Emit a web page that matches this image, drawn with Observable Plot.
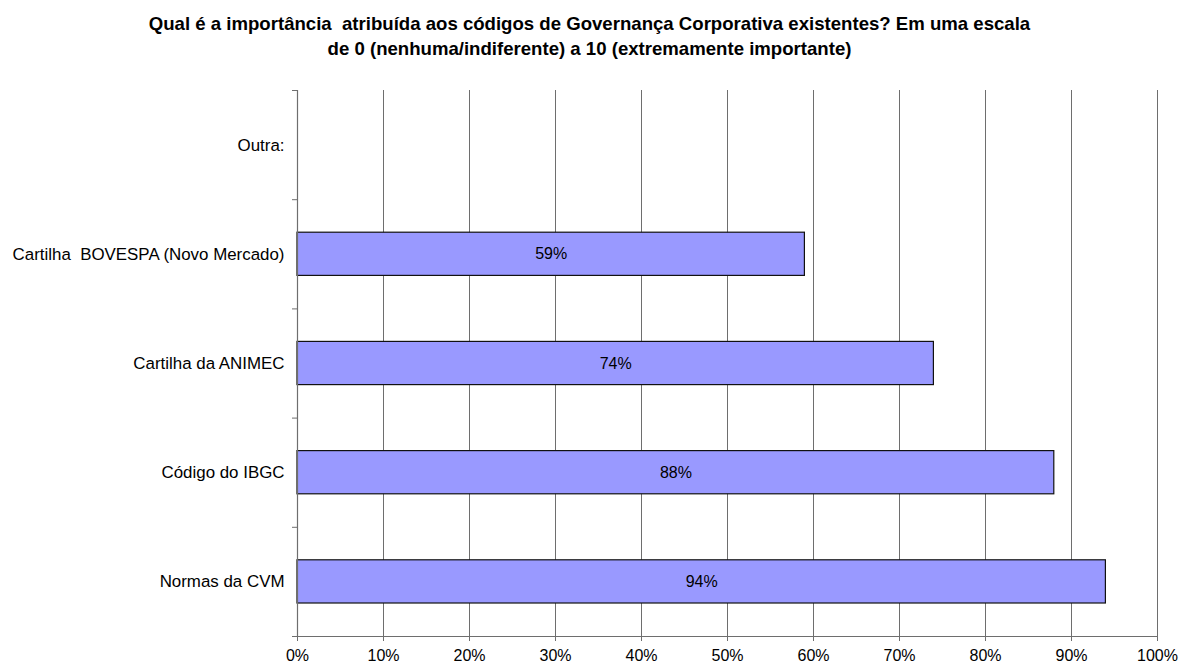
<!DOCTYPE html>
<html>
<head>
<meta charset="utf-8">
<script src="https://cdn.jsdelivr.net/npm/d3@7"></script>
<script src="https://cdn.jsdelivr.net/npm/@observablehq/plot@0.6"></script>
<style>
  html, body { margin: 0; padding: 0; background: #fff; overflow: hidden; }
  body { width: 1179px; height: 664px; font-family: Arial, "Liberation Sans", sans-serif; }
  #title { padding-top: 11px; height: 50px; text-align: center; font-weight: bold; font-size: 18.6px; line-height: 25px; color: #000; }
  #title div { white-space: pre; }
  svg text { white-space: pre; }
</style>
</head>
<body>
<div id="title"></div>
<div id="chart"></div>
<script>
const titleLines = [
  "Qual é a importância  atribuída aos códigos de Governança Corporativa existentes? Em uma escala",
  "de 0 (nenhuma/indiferente) a 10 (extremamente importante)"
];
// bottom to top
const categories = [
  "Normas da CVM",
  "Código do IBGC",
  "Cartilha da ANIMEC",
  "Cartilha  BOVESPA (Novo Mercado)",
  "Outra:"
];
const values = [0.94, 0.88, 0.74, 0.59, null];
const xTicks = [0, 0.1, 0.2, 0.3, 0.4, 0.5, 0.6, 0.7, 0.8, 0.9, 1];

const titleEl = document.getElementById("title");
titleLines.forEach(t => { const d = document.createElement("div"); d.textContent = t; titleEl.appendChild(d); });

const rows = categories.map((c, i) => ({category: c, i, value: values[i]}));
const barRows = rows.filter(d => d.value != null);
const bandEdges = d3.range(categories.length + 1);
const bandCenters = categories.map((c, i) => i + 0.5);
const pct = d3.format(".0%");

const chart = Plot.plot({
  width: 1179,
  height: 603,
  marginTop: 29,
  marginBottom: 28,
  marginLeft: 297,
  marginRight: 22,
  style: {fontFamily: "Arial, 'Liberation Sans', sans-serif", fontSize: "16px", color: "#000", background: "#fff"},
  x: {domain: [0, 1]},
  y: {domain: [0, categories.length]},
  marks: [
    Plot.gridX(xTicks.filter(t => t > 0), {stroke: "#6e6e6e", strokeOpacity: 1, strokeWidth: 1}),
    Plot.rectX(barRows, {
      x1: 0, x2: "value", y1: "i", y2: d => d.i + 1,
      insetTop: 33, insetBottom: 33,
      fill: "#9999FF", stroke: "#111", strokeWidth: 1.2
    }),
    Plot.text(barRows, {
      x: d => d.value / 2, y: d => d.i + 0.5,
      text: d => pct(d.value), fontSize: 16, fill: "#000"
    }),
    Plot.ruleX([0], {stroke: "#6e6e6e", strokeWidth: 1.2}),
    Plot.ruleY([0], {stroke: "#6e6e6e", strokeWidth: 1.2}),
    Plot.axisY({ticks: bandEdges, tickSize: 5, tickFormat: () => "", stroke: "#6e6e6e", label: null}),
    Plot.axisY({ticks: bandCenters, tickSize: 0, tickPadding: 13, tickFormat: d => categories[Math.floor(d)], fontSize: 16.9, fill: "#000", label: null}),
    Plot.axisX({ticks: xTicks, tickSize: 5, tickPadding: 8, tickFormat: pct, stroke: "#6e6e6e", fontSize: 16, fill: "#000", label: null})
  ]
});
document.getElementById("chart").appendChild(chart);
</script>
</body>
</html>
